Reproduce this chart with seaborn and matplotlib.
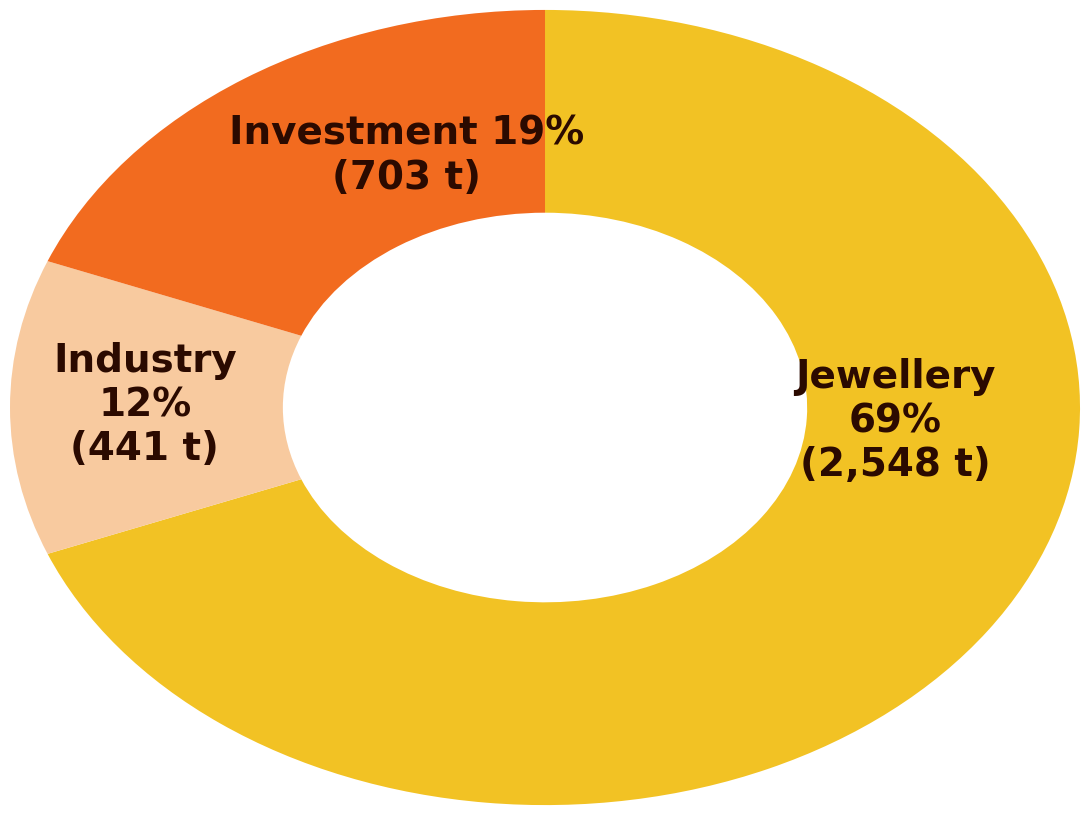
import matplotlib
matplotlib.use("Agg")
import matplotlib.pyplot as plt
import seaborn as sns

# ---- data ----
categories = ["Jewellery", "Industry", "Investment"]
shares = [69, 12, 19]
tonnes = ["2,548 t", "441 t", "703 t"]
colors = ["#F2C224", "#F8CA9F", "#F26B1F"]

# label text per slice
labels = [
    "Jewellery\n69%\n(2,548 t)",
    "Industry\n12%\n(441 t)",
    "Investment 19%\n(703 t)",
]
label_pos = [(0.655, -0.035), (-0.748, 0.006), (-0.258, 0.633)]

sns.set_style("white")
plt.rcParams["font.family"] = ["DejaVu Sans"]

fig = plt.figure(figsize=(10.82, 8.19), dpi=100)
ax = fig.add_axes([0, 0, 1, 1])

ax.pie(shares, colors=colors, startangle=90, counterclock=False,
       wedgeprops=dict(width=0.51, linewidth=0))

for txt, (x, y) in zip(labels, label_pos):
    ax.text(x, y, txt, ha="center", va="center", fontsize=28,
            fontweight="bold", color="#2B0A00", linespacing=1.2)

ax.set_aspect("auto")
ax.set_xlim(-1.0187, 1.0037)
ax.set_ylim(-1.035, 1.025)
ax.axis("off")

fig.savefig("out.png", dpi=100, facecolor="white")
